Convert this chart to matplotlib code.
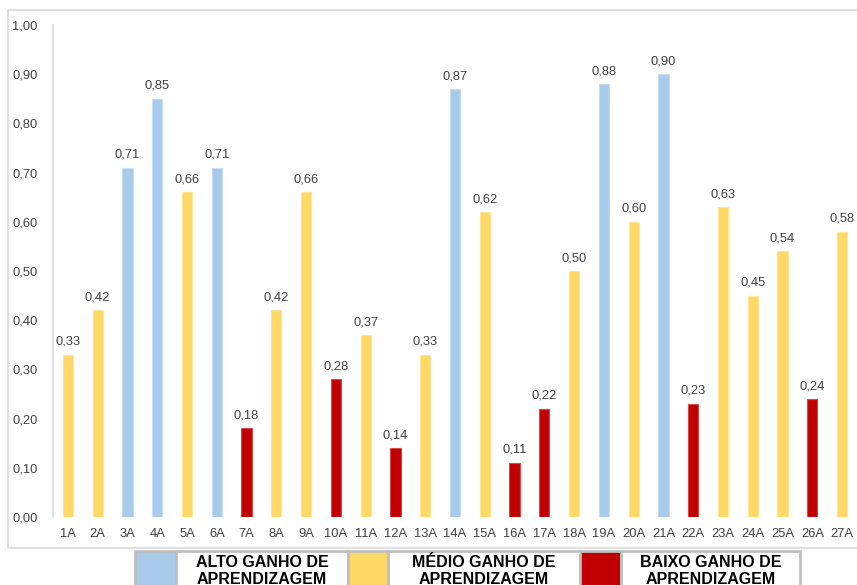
import matplotlib.pyplot as plt
from matplotlib.patches import Rectangle

# ---------- Data ----------
labels = [f"{i}A" for i in range(1, 28)]
values = [0.33, 0.42, 0.71, 0.85, 0.66, 0.71, 0.18, 0.42, 0.66, 0.28,
          0.37, 0.14, 0.33, 0.87, 0.62, 0.11, 0.22, 0.50, 0.88, 0.60,
          0.90, 0.23, 0.63, 0.45, 0.54, 0.24, 0.58]
groups = ["M", "M", "A", "A", "M", "A", "B", "M", "M", "B",
          "M", "B", "M", "A", "M", "B", "B", "M", "A", "M",
          "A", "B", "M", "M", "M", "B", "M"]
legend_names = ["ALTO GANHO DE\nAPRENDIZAGEM",
                "MÉDIO GANHO DE\nAPRENDIZAGEM",
                "BAIXO GANHO DE\nAPRENDIZAGEM"]
# ---------------------------

colors = {"A": "#A9CBEB", "M": "#FFD966", "B": "#C00000"}
edges = {"A": "#C6DCF2", "M": "#FFE49A", "B": "#D84A4A"}

plt.rcParams["font.family"] = ["Liberation Sans", "DejaVu Sans"]

W, H = 857, 585
fig = plt.figure(figsize=(W / 100, H / 100), dpi=100)

# outer chart border
fig.patches.append(Rectangle((8 / W, 1 - 548 / H), (W + 5 - 8) / W, (548 - 10) / H,
                             transform=fig.transFigure, fill=False,
                             edgecolor="#D9D9D9", lw=1.2))

ax = fig.add_axes([53 / W, 1 - 517 / H, (W - 53) / W, (517 - 25) / H])
x = range(len(labels))
ax.bar(x, values, width=0.34,
       color=[colors[g] for g in groups],
       edgecolor=[edges[g] for g in groups], linewidth=0.8)

for xi, v in zip(x, values):
    ax.text(xi, v + 0.014, f"{v:.2f}".replace(".", ","), ha="center", va="bottom",
            fontsize=9.3, color="#404040")

ax.set_xlim(-0.5, len(labels) - 0.5)
ax.set_ylim(0, 1.0)
ax.set_yticks([i / 10 for i in range(11)])
ax.set_yticklabels([f"{i / 10:.2f}".replace(".", ",") for i in range(11)])
ax.set_xticks(list(x))
ax.set_xticklabels(labels)
ax.tick_params(axis="both", length=0, labelsize=9.3, labelcolor="#404040")
ax.tick_params(axis="y", pad=11)
ax.tick_params(axis="x", pad=8)
for s in ["top", "right", "bottom"]:
    ax.spines[s].set_visible(False)
ax.spines["left"].set_color("#D9D9D9")
ax.spines["left"].set_linewidth(1.2)

# legend drawn as a table at the bottom
cells = [(135, 176, 348, "A"), (348, 388, 580, "M"), (580, 621, 800, "B")]
top, bot = 551, 600
for (x0, x1, x2, g), name in zip(cells, legend_names):
    fig.patches.append(Rectangle((x0 / W, 1 - bot / H), (x1 - x0) / W, (bot - top) / H,
                                 transform=fig.transFigure, facecolor=colors[g],
                                 edgecolor="#BFBFBF", lw=2))
    fig.patches.append(Rectangle((x1 / W, 1 - bot / H), (x2 - x1) / W, (bot - top) / H,
                                 transform=fig.transFigure, facecolor="white",
                                 edgecolor="#BFBFBF", lw=2))
    fig.text((x1 + x2) / 2 / W, 1 - 555 / H, name, ha="center", va="top",
             fontsize=11.5, fontweight="bold", color="black", linespacing=1.2)

fig.savefig("out.png", dpi=100)
